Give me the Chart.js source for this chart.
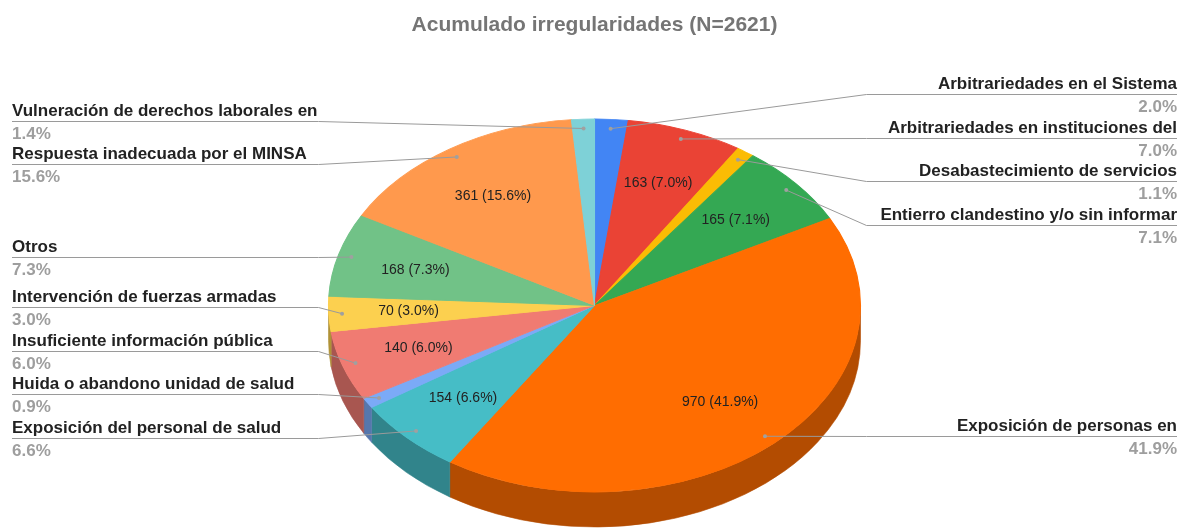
<!DOCTYPE html>
<html>
<head>
<meta charset="utf-8">
<script src="https://cdn.jsdelivr.net/npm/chart.js@4.4.1/dist/chart.umd.min.js"></script>
<style>
html,body{margin:0;padding:0;background:#fff;overflow:hidden;}
#wrap{width:1185px;height:528px;position:relative;}
</style>
</head>
<body>
<div id="wrap"><canvas id="c" width="1185" height="528"></canvas></div>
<script>
// ---- data ----
const chartTitle = 'Acumulado irregularidades (N=2621)';
const categories = [
  'Arbitrariedades en el Sistema',
  'Arbitrariedades en instituciones del',
  'Desabastecimiento de servicios',
  'Entierro clandestino y/o sin informar',
  'Exposición de personas en',
  'Exposición del personal de salud',
  'Huida o abandono unidad de salud',
  'Insuficiente información pública',
  'Intervención de fuerzas armadas',
  'Otros',
  'Respuesta inadecuada por el MINSA',
  'Vulneración de derechos laborales en'
];
const values = [47, 163, 25, 165, 970, 154, 21, 140, 70, 168, 361, 32];
const colors = ['#4285F4','#EA4335','#FBBC04','#34A853','#FF6D01','#46BDC6',
                '#7BAAF7','#F07B72','#FCD04F','#71C287','#FF994D','#7ED1D7'];

// ---- style constants ----
const FONT = '"Liberation Sans", Arial, sans-serif';
const RX = 266, RY = 186.5, DEPTH = 35;
const DOT_R = 0.95, IN_R = 0.70, MIN_INSIDE = 0.025;
const GAP = 43.5;

function shade(hex, f) {
  const n = parseInt(hex.slice(1), 16);
  const r = Math.round(((n >> 16) & 255) * f);
  const g = Math.round(((n >> 8) & 255) * f);
  const b = Math.round((n & 255) * f);
  return 'rgb(' + r + ',' + g + ',' + b + ')';
}

const total = values.reduce((a, b) => a + b, 0);
const pctText = v => (v / total * 100).toFixed(1) + '%';

function spread(items, gap, minY, maxY) {
  items.sort((a, b) => a.dy - b.dy);
  const place = c => {
    const n = c.items.length;
    let lo = Infinity, hi = -Infinity;
    c.items.forEach((it, j) => {
      const d = it.dy - j * gap;
      lo = Math.min(lo, d); hi = Math.max(hi, d);
    });
    let start = (lo + hi) / 2;
    start = Math.max(minY, Math.min(start, maxY - (n - 1) * gap));
    c.start = start;
  };
  let clusters = items.map(it => ({ items: [it] }));
  clusters.forEach(place);
  let changed = true;
  while (changed) {
    changed = false;
    for (let k = 0; k < clusters.length - 1; k++) {
      const a = clusters[k], b = clusters[k + 1];
      if (a.start + a.items.length * gap > b.start) {
        a.items = a.items.concat(b.items);
        place(a);
        clusters.splice(k + 1, 1);
        changed = true;
        break;
      }
    }
  }
  clusters.forEach(c => c.items.forEach((it, j) => { it.ly = c.start + j * gap; }));
}

const pie3d = {
  id: 'pie3d',
  beforeDatasetsDraw(chart) {
    const ctx = chart.ctx;
    const meta = chart.getDatasetMeta(0);
    const a0 = meta.data[0];
    const cx = a0.x, cy = a0.y, r = a0.outerRadius;
    meta.data.forEach((arc, i) => {
      const s = Math.max(arc.startAngle, 0), e = Math.min(arc.endAngle, Math.PI);
      if (e <= s) return;
      ctx.beginPath();
      ctx.ellipse(cx, cy, RX, RY, 0, s, e, false);
      ctx.ellipse(cx, cy + DEPTH, RX, RY, 0, e, s, true);
      ctx.closePath();
      const c = shade(colors[i], 0.7);
      ctx.fillStyle = c;
      ctx.fill();
      ctx.strokeStyle = c;
      ctx.lineWidth = 0.6;
      ctx.stroke();
    });
    ctx.save();
    ctx.translate(cx, cy);
    ctx.scale(RX / r, RY / r);
    ctx.translate(-cx, -cy);
  },
  afterDatasetsDraw(chart) {
    const ctx = chart.ctx;
    ctx.restore();
    const meta = chart.getDatasetMeta(0);
    const a0 = meta.data[0];
    const cx = a0.x, cy = a0.y;

    ctx.save();
    ctx.font = '14px ' + FONT;
    ctx.fillStyle = '#222';
    ctx.textAlign = 'center';
    ctx.textBaseline = 'middle';
    meta.data.forEach((arc, i) => {
      if (values[i] / total < MIN_INSIDE) return;
      const m = (arc.startAngle + arc.endAngle) / 2;
      const x = cx + RX * IN_R * Math.cos(m);
      const y = cy + RY * IN_R * Math.sin(m);
      ctx.fillText(values[i] + ' (' + pctText(values[i]) + ')', x, y);
    });
    ctx.restore();

    const left = [], right = [];
    meta.data.forEach((arc, i) => {
      const m = (arc.startAngle + arc.endAngle) / 2;
      const dx = cx + RX * DOT_R * Math.cos(m);
      const dy = cy + RY * DOT_R * Math.sin(m);
      const it = { i, dx, dy };
      (Math.cos(m) >= 0 ? right : left).push(it);
    });
    const maxY = chart.height - 90.5, minY = 60;
    spread(left, GAP, minY, maxY);
    spread(right, GAP, minY, maxY);

    const kneeL = cx - RX - 10, kneeR = cx + RX + 6;
    const textL = 12, textR = chart.width - 8;

    ctx.save();
    ctx.strokeStyle = '#9a9a9a';
    ctx.lineWidth = 1;
    const drawSide = (items, isLeft) => {
      items.forEach(it => {
        const ly = Math.round(it.ly) + 0.5;
        ctx.beginPath();
        ctx.moveTo(isLeft ? textL : textR, ly);
        ctx.lineTo(isLeft ? kneeL : kneeR, ly);
        ctx.lineTo(it.dx, it.dy);
        ctx.stroke();
        ctx.beginPath();
        ctx.arc(it.dx, it.dy, 2, 0, Math.PI * 2);
        ctx.fillStyle = '#a0a0a0';
        ctx.fill();
        ctx.textAlign = isLeft ? 'left' : 'right';
        ctx.textBaseline = 'alphabetic';
        ctx.font = 'bold 17px ' + FONT;
        ctx.fillStyle = '#222';
        ctx.fillText(categories[it.i], isLeft ? textL : textR, ly - 5.5);
        ctx.fillStyle = '#9e9e9e';
        ctx.fillText(pctText(values[it.i]), isLeft ? textL : textR, ly + 17);
      });
    };
    drawSide(left, true);
    drawSide(right, false);
    ctx.restore();
  }
};

new Chart(document.getElementById('c'), {
  type: 'pie',
  data: {
    labels: categories,
    datasets: [{
      data: values,
      backgroundColor: colors,
      borderColor: colors,
      borderWidth: 0.8,
      hoverOffset: 0,
      radius: RY,
      clip: false
    }]
  },
  options: {
    responsive: false,
    animation: false,
    devicePixelRatio: 1,
    events: [],
    layout: { padding: { left: 4, right: 0, top: 0, bottom: 2 } },
    plugins: {
      legend: { display: false },
      tooltip: { enabled: false },
      title: {
        display: true,
        text: chartTitle,
        color: '#757575',
        font: { family: FONT, size: 21, weight: 'bold' },
        padding: { top: 13, bottom: 46.8 }
      }
    }
  },
  plugins: [pie3d]
});
</script>
</body>
</html>
